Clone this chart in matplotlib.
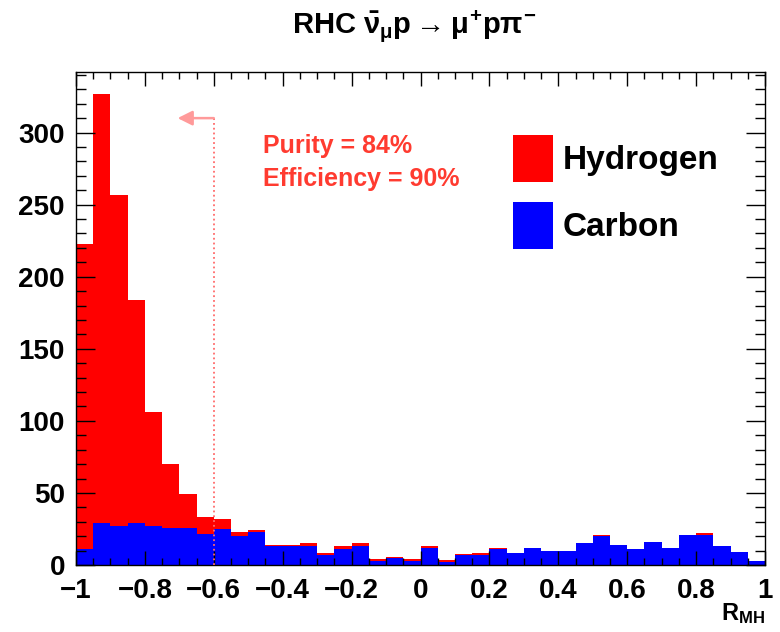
import numpy as np
import matplotlib.pyplot as plt
from matplotlib.ticker import MultipleLocator

plt.rcParams["font.family"] = ["Liberation Sans", "DejaVu Sans"]
plt.rcParams["font.weight"] = "bold"
plt.rcParams["mathtext.fontset"] = "custom"
plt.rcParams["mathtext.rm"] = "Liberation Sans:bold"
plt.rcParams["mathtext.it"] = "Liberation Sans:bold"
plt.rcParams["mathtext.bf"] = "Liberation Sans:bold"

# 直方图数据 (40 bins, -1 ~ 1)
bin_edges = np.linspace(-1, 1, 41)
carbon = [11, 29, 27, 29, 27, 26, 26, 21.5, 25, 20,
          23, 13, 13, 13, 7, 11, 13, 3, 5, 3,
          12, 2, 7, 7, 11, 8, 12, 10, 10, 15,
          20, 14, 11, 16, 12, 21, 21, 13, 9, 3]
hydrogen = [212, 298, 230, 155, 79, 44, 23, 12, 7, 3,
            1.5, 1, 1, 2, 1, 2, 2, 1, 0.5, 1.5,
            1, 1.5, 0.5, 1, 0.5, 0, 0, 0, 0, 0,
            1, 0, 0, 0, 0, 0, 1, 0, 0, 0]
cut = -0.6
purity = 84
efficiency = 90
xtick_vals = [-1, -0.8, -0.6, -0.4, -0.2, 0, 0.2, 0.4, 0.6, 0.8, 1]
xtick_labels = ["\u22121", "\u22120.8", "\u22120.6", "\u22120.4", "\u22120.2",
                "0", "0.2", "0.4", "0.6", "0.8", "1"]

carbon = np.array(carbon)
hydrogen = np.array(hydrogen)

fig = plt.figure(figsize=(7.8, 6.32), dpi=100)
ax = fig.add_axes([76 / 780, 1 - 565 / 632, 689 / 780, 493 / 632])

ax.stairs(carbon + hydrogen, bin_edges, baseline=carbon, fill=True,
          color="#ff0000", label="Hydrogen")
ax.stairs(carbon, bin_edges, fill=True, color="#0000ff", label="Carbon")

# cut 线和箭头
ax.plot([cut, cut], [0, 310], ls=":", color="#ff6a6a", lw=1.3, zorder=5)
ax.annotate("", xy=(cut - 0.105, 310), xytext=(cut, 310),
            arrowprops=dict(arrowstyle="-|>", color="#ff9a9a", lw=1.8,
                            mutation_scale=22, shrinkA=0, shrinkB=0),
            zorder=5)

ax.set_xlim(-1, 1)
ax.set_ylim(0, 342)
ax.set_xticks(xtick_vals)
ax.set_xticklabels(xtick_labels)
ax.xaxis.set_minor_locator(MultipleLocator(0.05))
ax.yaxis.set_major_locator(MultipleLocator(50))
ax.yaxis.set_minor_locator(MultipleLocator(10))
ax.tick_params(which="both", direction="in", top=True, right=True,
               labelsize=20, width=1)
ax.tick_params(axis="x", which="major", length=10, pad=9)
ax.tick_params(axis="x", which="minor", length=5)
ax.tick_params(axis="y", which="major", length=14, pad=8)
ax.tick_params(axis="y", which="minor", length=7)
for lab in ax.get_xticklabels() + ax.get_yticklabels():
    lab.set_fontweight("bold")
for s in ax.spines.values():
    s.set_linewidth(1)

# x 轴标题 (右下角)
ax.text(1.0, -0.1116, r"R$_{\mathregular{MH}}$", transform=ax.transAxes,
        ha="right", va="baseline", fontsize=17, fontweight="bold")

ax.text(0.271, 0.836, f"Purity = {purity}%", transform=ax.transAxes,
        color="#ff3b30", fontsize=18, fontweight="bold", va="baseline")
ax.text(0.271, 0.769, f"Efficiency = {efficiency}%", transform=ax.transAxes,
        color="#ff3b30", fontsize=18, fontweight="bold", va="baseline")

handles, labels = ax.get_legend_handles_labels()
ax.legend(handles, labels, loc="upper left", bbox_to_anchor=(0.634, 0.872),
          frameon=False, borderpad=0, borderaxespad=0,
          handlelength=1.2, handleheight=1.78, handletextpad=0.3,
          labelspacing=0.6, prop={"weight": "bold", "size": 24})

fig.text(414 / 780, 1 - 26 / 632,
         r"RHC $\bar{\nu}_{\mu}$p$\rightarrow\mu^{+}$p$\pi^{-}$",
         ha="center", va="center", fontsize=21, fontweight="bold")

fig.savefig("out.png", dpi=100)
